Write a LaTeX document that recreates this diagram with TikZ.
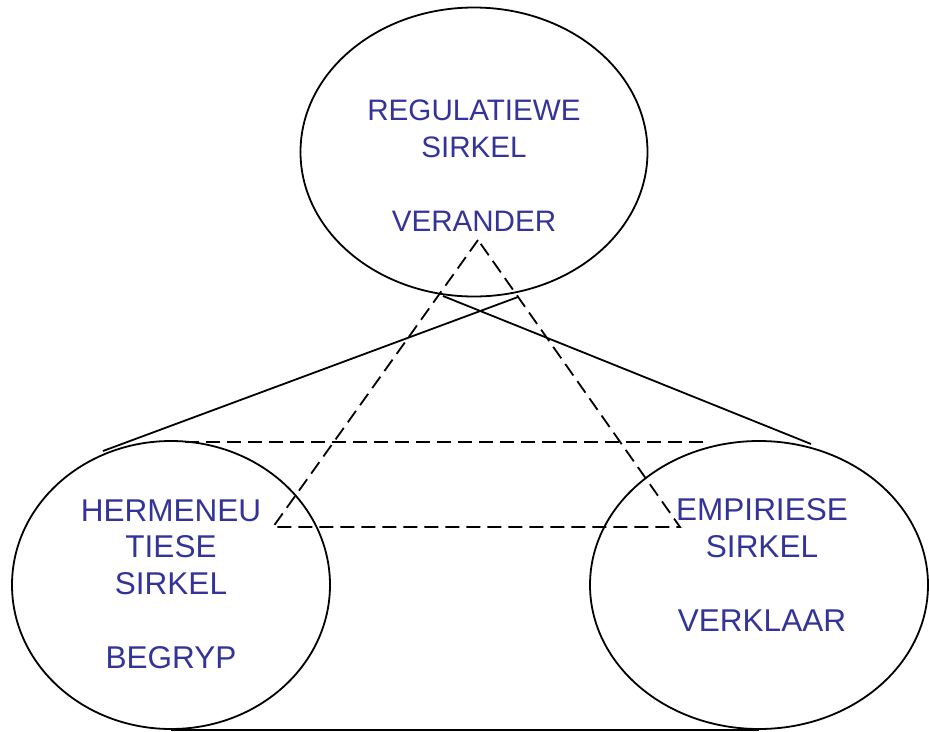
\documentclass[tikz,border=0pt]{standalone}
\usepackage{fontspec}
\setmainfont{Liberation Sans}
\usetikzlibrary{shapes.geometric}
\definecolor{sirkelblue}{RGB}{51,51,153}

\begin{document}
\begin{tikzpicture}[x=1pt,y=-1pt,line width=1.8pt,
	sirkel/.style={draw, ellipse, inner sep=0pt},
	label/.style={text=sirkelblue, align=center, inner sep=0pt, font=\fontsize{29.6}{37}\selectfont},
	groot/.style={font=\fontsize{31.5}{36.7}\selectfont},
	stippel/.style={dash pattern=on 14pt off 7pt}]
	\useasboundingbox (0,0) rectangle (929,731);
	\node[sirkel, minimum width=347pt, minimum height=289pt] at (474,152)(reg){};
	\node[sirkel, minimum width=318pt, minimum height=288pt] at (171,585)(her){};
	\node[sirkel, minimum width=338pt, minimum height=288pt] at (759,585)(emp){};
	\node[label] at (474,166)(regtxt){REGULATIEWE\\SIRKEL\\[37pt]VERANDER};
	\node[label, groot] at (171,584)(hertxt){HERMENEU\\TIESE\\SIRKEL\\[36.7pt]BEGRYP};
	\node[label, groot] at (762,565)(emptxt){EMPIRIESE\\SIRKEL\\[36.7pt]VERKLAAR};
	% punte vir die lyne
	\coordinate (a) at (103,451);
	\coordinate (b) at (518,297);
	\coordinate (c) at (443,296);
	\coordinate (d) at (811,444);
	\coordinate (p) at (478,240);
	\coordinate (q) at (273,527);
	\coordinate (r) at (680,527);
	\coordinate (s) at (185,442);
	\coordinate (t) at (706,442);
	\draw (a)--(b);
	\draw (c)--(d);
	\draw (her.south)--(emp.south);
	\draw[stippel] (p)--(q)--(r)--cycle;
	\draw[stippel] (s)--(t);
\end{tikzpicture}
\end{document}
